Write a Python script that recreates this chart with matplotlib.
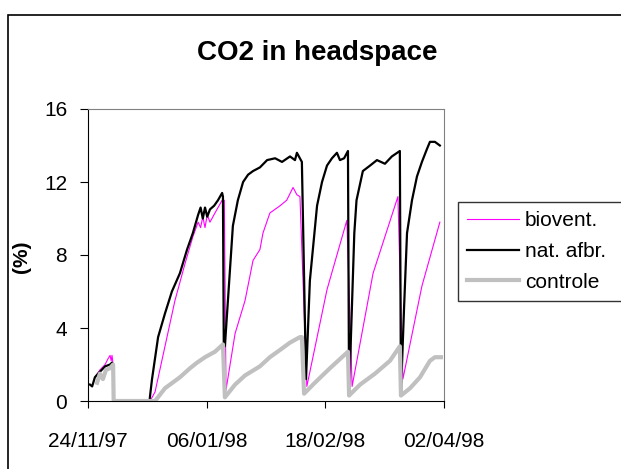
import numpy as np
import pandas as pd
import matplotlib
matplotlib.use('Agg')
import matplotlib.pyplot as plt
import matplotlib.dates as mdates
from matplotlib.patches import Rectangle

plt.rcParams['font.family'] = ['Liberation Sans', 'DejaVu Sans']

start = pd.Timestamp('1997-11-24')

# days since 24/11/97 and CO2 (%)
bio_days = [2.5, 4.3, 6.2, 7.2, 8.0, 8.4, 8.7, 9.1, 9.3, 22.5, 24.3, 27.9, 31.5, 35.1, 38.0,
            39.9, 40.8, 41.6, 42.4, 43.2, 44.2, 46.0, 48.6, 49.4, 50.0, 53.3, 56.9, 59.8,
            62.3, 63.4, 65.9, 69.6, 72.0, 74.3, 75.7, 76.8, 79.3, 86.6, 93.8, 95.7, 103.3,
            112.3, 114.1, 121.0, 127.5]
bio_vals = [1.3, 1.7, 2.0, 2.3, 2.5, 2.2, 2.5, 2.0, 0.0, 0.0, 0.5, 3.0, 5.5, 7.5, 9.0,
            9.8, 9.5, 10.1, 9.5, 10.2, 9.8, 10.3, 11.0, 11.0, 0.6, 3.7, 5.5, 7.7,
            8.3, 9.2, 10.3, 10.7, 11.0, 11.7, 11.3, 11.2, 0.8, 6.1, 9.9, 0.8, 7.0,
            11.2, 1.2, 6.3, 9.8]

nat_days = [0.7, 1.5, 2.5, 4.3, 6.2, 8.0, 8.7, 9.1, 9.3, 22.3, 22.5, 23.2, 25.4, 27.9,
            30.4, 33.3, 35.9, 38.0, 39.9, 40.8, 41.6, 42.4, 43.2, 44.2, 45.7, 47.1, 48.6,
            48.9, 49.2, 49.6, 50.7, 52.5, 54.3, 56.2, 58.0, 59.8, 62.3, 64.9, 67.8, 70.3,
            73.2, 75.0, 75.7, 77.5, 79.0, 80.4, 83.0, 84.8, 86.6, 88.4, 90.2, 91.3, 92.8,
            94.2, 94.6, 95.6, 96.5, 97.3, 99.6, 102.2, 104.7, 107.6, 110.1, 113.0, 113.4,
            114.5, 115.6, 117.4, 119.2, 121.0, 122.8, 123.9, 125.7, 127.5]
nat_vals = [0.9, 0.8, 1.3, 1.6, 1.9, 2.0, 2.1, 1.9, 0.0, 0.0, 0.3, 1.2, 3.5, 4.8,
            6.0, 7.0, 8.3, 9.2, 10.2, 10.6, 10.0, 10.6, 10.1, 10.5, 10.7, 11.0, 11.4,
            11.2, 3.1, 3.0, 5.5, 9.6, 11.0, 12.0, 12.4, 12.6, 12.8, 13.2, 13.3, 13.1,
            13.4, 13.2, 13.6, 13.1, 1.2, 6.6, 10.7, 12.0, 12.9, 13.3, 13.6, 13.2, 13.3,
            13.7, 0.4, 5.0, 9.2, 11.0, 12.6, 12.9, 13.2, 13.0, 13.4, 13.7, 0.4,
            5.0, 9.2, 11.0, 12.3, 13.1, 13.8, 14.2, 14.2, 14.0]

ctl_days = [3.3, 4.3, 5.4, 6.5, 8.0, 9.1, 9.3, 24.3, 27.9, 33.3, 37.0, 39.5, 42.4, 46.0,
            48.9, 49.6, 53.3, 56.9, 62.3, 65.9, 69.6, 73.2, 76.8, 77.5, 78.3, 82.2, 87.7,
            94.2, 94.6, 98.6, 104.0, 109.4, 113.0, 113.4, 116.7, 120.3, 123.9, 125.7, 127.9]
ctl_vals = [1.0, 1.5, 1.2, 1.7, 1.8, 2.0, 0.0, 0.0, 0.7, 1.3, 1.8, 2.1, 2.4, 2.7,
            3.1, 0.2, 0.9, 1.4, 1.9, 2.4, 2.8, 3.2, 3.5, 3.5, 0.4, 1.0, 1.8,
            2.7, 0.3, 0.9, 1.5, 2.2, 3.0, 0.3, 0.7, 1.3, 2.2, 2.4, 2.4]

tick_days = [0, 43, 86, 129]
series_names = ['biovent.', 'nat. afbr.', 'controle']


def to_dates(days):
    return start + pd.to_timedelta(np.array(days), unit='D')


fig = plt.figure(figsize=(6.21, 4.69), dpi=100)
ax = fig.add_axes([88/621, 68/469, 356/621, 292/469])

ax.plot(to_dates(bio_days), bio_vals, color='#FF00FF', lw=0.8, label=series_names[0])
ax.plot(to_dates(nat_days), nat_vals, color='black', lw=1.6, label=series_names[1])
ax.plot(to_dates(ctl_days), ctl_vals, color='#C0C0C0', lw=3, label=series_names[2])

ax.set_xlim(to_dates([0])[0], to_dates([129])[0])
ax.set_ylim(0, 16)
ax.set_yticks([0, 4, 8, 12, 16])
ax.set_xticks(to_dates(tick_days))
ax.xaxis.set_major_formatter(mdates.DateFormatter('%d/%m/%y'))
ax.tick_params(axis='y', labelsize=15, length=6, pad=9, direction='out')
ax.tick_params(axis='x', labelsize=15, length=5, pad=17, direction='out')

for s in ['top', 'right']:
    ax.spines[s].set_color('#808080')
for s in ['left', 'bottom']:
    ax.spines[s].set_color('black')

fig.text(317/621, 1 - 53/469, 'CO2 in headspace', fontsize=20, fontweight='bold',
         ha='center', va='center')
fig.text(22/621, 1 - 257/469, '(%)', fontsize=15, fontweight='bold', rotation=90,
         ha='center', va='center')

leg = fig.legend(loc='upper left', bbox_to_anchor=(458/621, 1 - 298/469, 0.35, 96/469),
                 mode='expand', fontsize=15, frameon=True, fancybox=False,
                 edgecolor='black', handlelength=2.5, handletextpad=0.25,
                 borderpad=0.45, labelspacing=0.56, borderaxespad=0)
leg.get_frame().set_linewidth(1)

# chart area border
fig.patches.append(Rectangle((8/621, -0.1), 1.1, 1 - 15/469 + 0.1,
                             transform=fig.transFigure, fill=False,
                             edgecolor='black', lw=1.2))

fig.savefig('out.png', dpi=100)
